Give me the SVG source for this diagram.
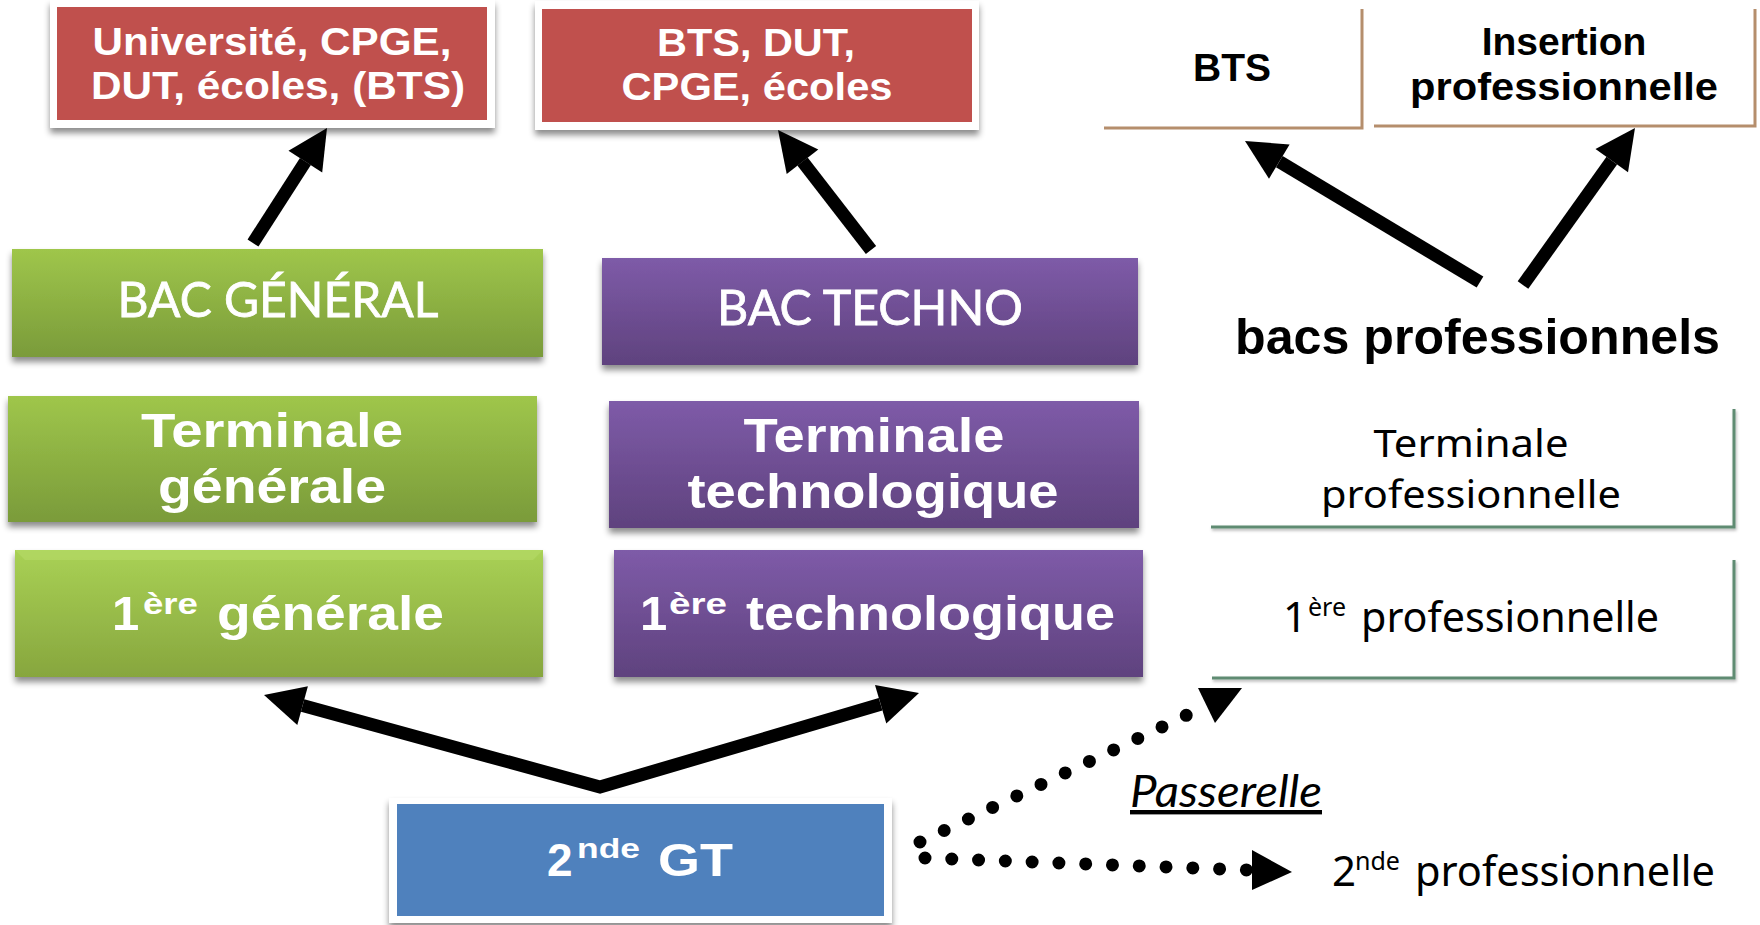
<svg xmlns="http://www.w3.org/2000/svg" width="1760" height="925" viewBox="0 0 1760 925">
<style>
.w{font-family:"Liberation Sans",Arial,sans-serif;font-weight:bold;fill:#fff}
.k{font-family:"Liberation Sans",Arial,sans-serif;font-weight:bold;fill:#000}
.cal{font-family:Lato,"Open Sans",sans-serif;fill:#fff;stroke:#fff;stroke-width:0.8}
.cs{font-family:"Comic Sans MS","Noto Sans",sans-serif;fill:#000}
.arr{fill:none;stroke:#000;stroke-width:13;stroke-linejoin:miter}
.head{fill:#000}
.dot{fill:none;stroke:#000;stroke-width:13;stroke-linecap:round;stroke-dasharray:0 26.8}
.brown{fill:none;stroke:#b58e6c;stroke-width:3}
.green{fill:none;stroke:#5e8b72;stroke-width:3}
</style>
<defs>
<filter id="sh" x="-5%" y="-10%" width="110%" height="135%">
<feDropShadow dx="0" dy="5" stdDeviation="3" flood-color="#000" flood-opacity="0.45"/>
</filter>
<filter id="sh2" x="-5%" y="-10%" width="110%" height="135%">
<feDropShadow dx="1" dy="2" stdDeviation="1.5" flood-color="#000" flood-opacity="0.3"/>
</filter>
<linearGradient id="gGreen" x1="0" y1="0" x2="0" y2="1">
<stop offset="0" stop-color="#9fc64b"/><stop offset="1" stop-color="#7a9b3a"/>
</linearGradient>
<linearGradient id="gGreen2" x1="0" y1="0" x2="0" y2="1">
<stop offset="0" stop-color="#a9d155"/><stop offset="1" stop-color="#87a63e"/>
</linearGradient>
<linearGradient id="gPurple" x1="0" y1="0" x2="0" y2="1">
<stop offset="0" stop-color="#7e5ba8"/><stop offset="1" stop-color="#5f427e"/>
</linearGradient>
</defs>
<rect width="1760" height="925" fill="#fff"/>

<g id="n-univ">
<rect x="50" y="0" width="445" height="128" fill="#fff" filter="url(#sh)"/>
<rect x="57" y="7" width="430" height="113" fill="#c0504d"/>
<text class="w" x="272" y="55" font-size="38" text-anchor="middle" textLength="359" lengthAdjust="spacingAndGlyphs">Université, CPGE,</text>
<text class="w" x="278" y="99" font-size="38" text-anchor="middle" textLength="374" lengthAdjust="spacingAndGlyphs">DUT, écoles, (BTS)</text>
</g>

<g id="n-btsdut">
<rect x="535" y="1" width="444" height="129" fill="#fff" filter="url(#sh)"/>
<rect x="542" y="9" width="430" height="113" fill="#c0504d"/>
<text class="w" x="756" y="56" font-size="38" text-anchor="middle" textLength="198" lengthAdjust="spacingAndGlyphs">BTS, DUT,</text>
<text class="w" x="757" y="100" font-size="38" text-anchor="middle" textLength="271" lengthAdjust="spacingAndGlyphs">CPGE, écoles</text>
</g>

<g id="n-bts">
<polyline class="brown" points="1104,128 1362,128 1362,9"/>
<text class="k" x="1232" y="81" font-size="39" text-anchor="middle">BTS</text>
</g>

<g id="n-insertion">
<polyline class="brown" points="1374,126 1755,126 1755,9"/>
<text class="k" x="1564" y="55" font-size="39" text-anchor="middle">Insertion</text>
<text class="k" x="1564" y="100" font-size="39" text-anchor="middle" textLength="308" lengthAdjust="spacingAndGlyphs">professionnelle</text>
</g>

<g id="n-bacgen">
<rect x="12" y="249" width="531" height="108" fill="url(#gGreen)" filter="url(#sh)"/>
<text class="cal" x="278" y="317" font-size="49" text-anchor="middle" textLength="321" lengthAdjust="spacingAndGlyphs">BAC GÉNÉRAL</text>
</g>

<g id="n-bactech">
<rect x="602" y="258" width="536" height="107" fill="url(#gPurple)" filter="url(#sh)"/>
<text class="cal" x="870" y="325" font-size="49" text-anchor="middle" textLength="306" lengthAdjust="spacingAndGlyphs">BAC TECHNO</text>
</g>

<g id="n-bacspro">
<text class="k" x="1235" y="354" font-size="50" textLength="485" lengthAdjust="spacingAndGlyphs">bacs professionnels</text>
</g>

<g id="n-termgen">
<rect x="8" y="396" width="529" height="126" fill="url(#gGreen)" filter="url(#sh)"/>
<text class="w" x="272" y="447" font-size="48" text-anchor="middle" textLength="262" lengthAdjust="spacingAndGlyphs">Terminale</text>
<text class="w" x="272" y="503" font-size="48" text-anchor="middle" textLength="228" lengthAdjust="spacingAndGlyphs">générale</text>
</g>

<g id="n-termtech">
<rect x="609" y="401" width="530" height="127" fill="url(#gPurple)" filter="url(#sh)"/>
<text class="w" x="874" y="452" font-size="48" text-anchor="middle" textLength="261" lengthAdjust="spacingAndGlyphs">Terminale</text>
<text class="w" x="873" y="508" font-size="48" text-anchor="middle" textLength="371" lengthAdjust="spacingAndGlyphs">technologique</text>
</g>

<g id="n-termpro">
<polyline class="green" points="1211,527 1734,527 1734,409" filter="url(#sh2)"/>
<text class="cs" x="1471" y="457" font-size="39" text-anchor="middle" textLength="195" lengthAdjust="spacingAndGlyphs">Terminale</text>
<text class="cs" x="1471" y="508" font-size="39" text-anchor="middle" textLength="300" lengthAdjust="spacingAndGlyphs">professionnelle</text>
</g>

<g id="n-1gen">
<rect x="15" y="550" width="528" height="127" fill="url(#gGreen2)" filter="url(#sh)"/>
<polygon points="15,550 543,550 533,560 25,560" fill="#b6da68" opacity="0.6"/>
<text class="w" x="112" y="630" font-size="49">1</text>
<text class="w" x="143" y="614" font-size="29" textLength="55" lengthAdjust="spacingAndGlyphs">ère</text>
<text class="w" x="217" y="630" font-size="49" textLength="227" lengthAdjust="spacingAndGlyphs">générale</text>
</g>

<g id="n-1tech">
<rect x="614" y="550" width="529" height="127" fill="url(#gPurple)" filter="url(#sh)"/>
<text class="w" x="640" y="630" font-size="49">1</text>
<text class="w" x="669" y="614" font-size="29" textLength="58" lengthAdjust="spacingAndGlyphs">ère</text>
<text class="w" x="746" y="630" font-size="49" textLength="369" lengthAdjust="spacingAndGlyphs">technologique</text>
</g>

<g id="n-1pro">
<polyline class="green" points="1212,678 1734,678 1734,560" filter="url(#sh2)"/>
<text class="cs" x="1283" y="632" font-size="42">1</text>
<text class="cs" x="1308" y="616" font-size="26" textLength="38" lengthAdjust="spacingAndGlyphs">ère</text>
<text class="cs" x="1361" y="632" font-size="42" textLength="298" lengthAdjust="spacingAndGlyphs">professionnelle</text>
</g>

<g id="n-2gt">
<rect x="389" y="798" width="503" height="125" fill="#fff" filter="url(#sh)"/>
<rect x="397" y="804" width="487" height="112" fill="#4f81bd"/>
<text class="w" x="547" y="876" font-size="46">2</text>
<text class="w" x="577" y="858" font-size="28" textLength="63" lengthAdjust="spacingAndGlyphs">nde</text>
<text class="w" x="658" y="876" font-size="46" textLength="75" lengthAdjust="spacingAndGlyphs">GT</text>
</g>

<g id="n-2pro">
<text class="cs" x="1332" y="886" font-size="42">2</text>
<text class="cs" x="1355" y="870" font-size="26" textLength="45" lengthAdjust="spacingAndGlyphs">nde</text>
<text class="cs" x="1415" y="886" font-size="42" textLength="300" lengthAdjust="spacingAndGlyphs">professionnelle</text>
</g>

<g id="connectors">
<path class="arr" d="M253,243 L305.4,161.6"/>
<polygon class="head" points="327,128 322.2,172.5 288.5,150.8"/>
<path class="arr" d="M871,250 L802.5,161.6"/>
<polygon class="head" points="778,130 818.3,149.4 786.7,173.9"/>
<path class="arr" d="M1480,282 L1279.3,161.6"/>
<polygon class="head" points="1245,141 1289.6,144.4 1269,178.7"/>
<path class="arr" d="M1523,285 L1611.8,160.6"/>
<polygon class="head" points="1635,128 1628,172.2 1595.5,148.9"/>
<path class="arr" d="M302.6,705.6 L600,787 L880.6,704.3"/>
<polygon class="head" points="264,695 307.9,686.3 297.3,724.9"/>
<polygon class="head" points="919,693 886.3,723.5 875,685.1"/>
<path class="dot" d="M920,842 L1187,715"/>
<polygon class="head" points="1242,688 1198,688 1215,723"/>
<path class="dot" d="M925,858 L1248,870"/>
<polygon class="head" points="1292,872 1252,850 1252,890"/>
<text x="1130" y="807" font-family="Lato,'Open Sans',sans-serif" font-style="italic" font-size="44" fill="#000" text-decoration="underline" textLength="192" lengthAdjust="spacingAndGlyphs">Passerelle</text>
</g>
</svg>
